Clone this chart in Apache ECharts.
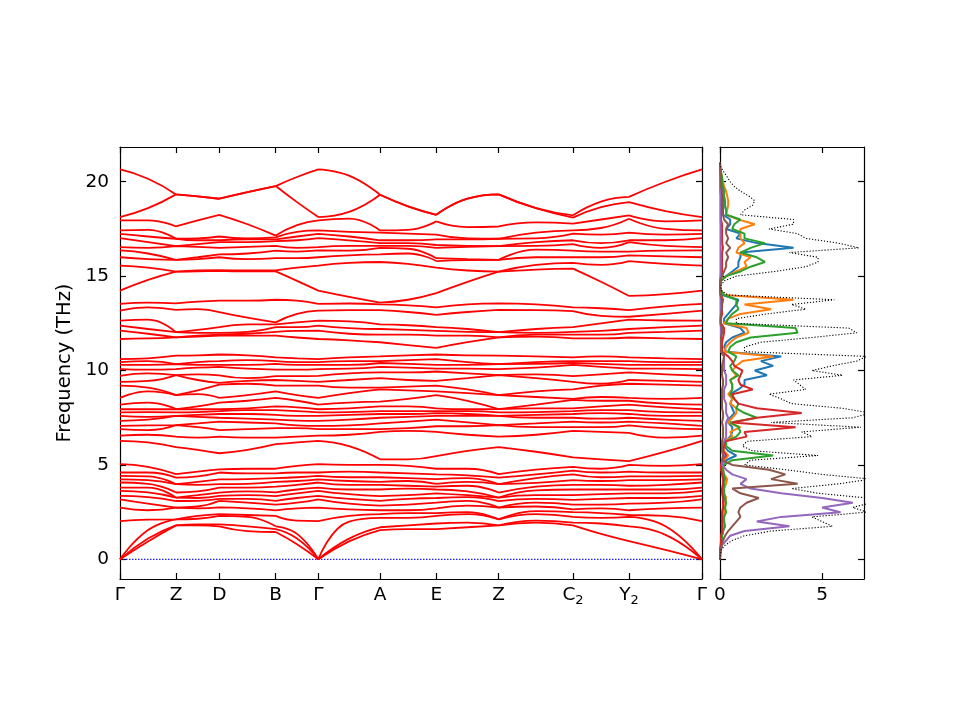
<!DOCTYPE html>
<html><head><meta charset="utf-8">
<script src="https://cdn.jsdelivr.net/npm/echarts@6.0.0/dist/echarts.min.js"></script>
<style>html,body{margin:0;padding:0;background:#fff}#c{width:960px;height:720px}</style>
</head><body><div id="c"></div>
<script>
// ---- band structure: path ticks ----
const kLabels = ['Γ','Z','D','B','Γ','A','E','Z','C_2','Y_2','Γ'];
const kTicks = [0, 56, 99.3, 155.7, 198.3, 260, 316.3, 378.7, 453, 509, 582];
const kSamples = [0, 28, 56, 77.7, 99.3, 127.5, 155.7, 177, 198.3, 229, 260, 288, 316.3, 347.5, 378.7, 416, 453, 481, 509, 545.5, 582];
const freqTicks = [0, 5, 10, 15, 20];
const dosTicks = [0, 5];

// ---- frequencies (THz) at each sample point, sorted ----
const fGamma = [0, 0, 0, 2.03, 2.74, 3.18, 3.36, 3.63, 3.8, 4.07, 4.24, 4.42, 4.6, 5.04,
  6.28, 6.55, 6.9, 7.07, 7.34, 7.6, 7.78, 7.95, 8.2, 8.55, 9.2, 9.4, 9.72, 10.08, 10.3, 10.45, 10.61,
  11.67, 12.11, 12.38, 12.64, 13.17, 13.53, 14.23, 15.56, 16.0, 16.36, 16.54, 17.01, 17.24, 17.42, 17.95, 18.13, 20.65];
const fGZ = [0.95, 1.1, 1.55, 2.1, 2.6, 2.95, 3.3, 3.55, 3.8, 4.0, 4.2, 4.4, 4.6, 4.9,
  6.2, 6.6, 6.85, 7.1, 7.4, 7.55, 7.8, 7.95, 8.3, 8.9, 9.1, 9.45, 9.85, 10.05, 10.3, 10.5, 10.65,
  11.7, 11.95, 12.2, 12.7, 13.35, 13.6, 14.8, 15.45, 15.9, 16.2, 16.5, 16.8, 17.1, 17.45, 17.95, 18.6, 20.16];
const fZ = [1.8, 1.8, 2.12, 2.12, 2.74, 2.74, 3.09, 3.27, 3.27, 3.54, 3.98, 3.98, 4.33, 4.51,
  5.95, 6.5, 7.11, 7.11, 7.6, 7.6, 7.78, 7.96, 7.96, 8.7, 8.7, 9.76, 9.76, 10.08, 10.34, 10.34, 10.79,
  11.76, 11.76, 12.03, 12.03, 13.21, 13.56, 15.24, 15.24, 15.86, 15.86, 16.59, 16.59, 16.98, 16.98, 17.63, 19.33, 19.33];
const fZD = [1.8, 1.85, 2.15, 2.3, 2.7, 2.8, 3.1, 3.25, 3.4, 3.6, 3.95, 4.1, 4.4, 4.65,
  5.8, 6.45, 7.0, 7.2, 7.55, 7.65, 7.8, 7.95, 8.1, 8.75, 8.95, 9.5, 9.8, 10.15, 10.3, 10.45, 10.8,
  11.8, 11.85, 12.0, 12.15, 13.25, 13.65, 15.25, 15.3, 15.9, 16.0, 16.55, 16.7, 16.9, 17.0, 17.95, 19.22, 19.22];
const fD = [1.75, 1.85, 2.3, 2.4, 2.75, 3.1, 3.2, 3.36, 3.54, 3.8, 3.98, 4.24, 4.6, 4.77,
  5.62, 6.5, 6.85, 7.3, 7.5, 7.7, 7.85, 7.95, 8.3, 8.55, 9.25, 9.35, 9.75, 10.2, 10.3, 10.5, 10.85,
  11.85, 11.9, 12.0, 12.3, 13.1, 13.7, 15.28, 15.32, 16.0, 16.15, 16.5, 16.8, 16.9, 17.1, 18.25, 19.1, 19.1];
const fDB = [1.5, 1.75, 2.25, 2.35, 2.7, 3.0, 3.2, 3.4, 3.6, 3.8, 4.0, 4.25, 4.55, 4.8,
  5.8, 6.45, 6.9, 7.25, 7.45, 7.7, 7.9, 8.0, 8.4, 8.7, 9.3, 9.45, 9.6, 10.1, 10.3, 10.55, 10.8,
  11.85, 11.95, 12.05, 12.45, 12.8, 13.7, 15.25, 15.3, 15.9, 16.2, 16.55, 16.8, 16.95, 17.0, 17.75, 19.45, 19.45];
const fB = [1.45, 1.6, 1.75, 2.3, 2.6, 2.9, 3.1, 3.35, 3.55, 3.85, 4.1, 4.3, 4.55, 4.8,
  6.1, 6.45, 6.95, 7.2, 7.4, 7.65, 7.9, 8.1, 8.55, 8.9, 9.2, 9.5, 9.7, 10.05, 10.35, 10.5, 10.7,
  11.85, 12.05, 12.3, 12.45, 12.55, 13.75, 15.25, 15.3, 15.95, 16.35, 16.6, 16.85, 16.95, 17.05, 17.15, 19.77, 19.77];
const fBG = [0.8, 1.1, 1.35, 2.05, 2.7, 3.0, 3.25, 3.5, 3.7, 3.95, 4.15, 4.35, 4.6, 4.95,
  6.2, 6.5, 6.95, 7.1, 7.35, 7.6, 7.85, 8.05, 8.4, 8.7, 9.2, 9.45, 9.7, 10.05, 10.3, 10.45, 10.65,
  11.75, 12.1, 12.3, 12.55, 13.0, 13.7, 14.75, 15.45, 15.95, 16.3, 16.5, 16.9, 17.1, 17.35, 17.7, 18.92, 20.25];
const fGA = [0.95, 1.1, 2.0, 2.3, 2.65, 2.95, 3.2, 3.45, 3.7, 3.95, 4.15, 4.35, 4.65, 5.0,
  6.0, 6.6, 6.9, 7.1, 7.4, 7.65, 7.8, 8.0, 8.3, 8.8, 9.1, 9.5, 9.85, 10.1, 10.3, 10.5, 10.7,
  11.6, 11.95, 12.25, 12.6, 13.2, 13.55, 13.9, 15.7, 16.1, 16.35, 16.6, 16.9, 17.1, 17.35, 18.05, 18.4, 20.32];
const fA = [1.55, 1.7, 2.2, 2.4, 2.6, 2.85, 3.1, 3.35, 3.7, 3.95, 4.1, 4.35, 4.6, 5.0,
  5.3, 6.75, 6.9, 7.2, 7.5, 7.7, 7.85, 8.1, 8.35, 9.0, 9.1, 9.6, 9.9, 10.2, 10.4, 10.5, 10.75,
  11.5, 11.9, 12.2, 12.45, 13.2, 13.5, 13.6, 15.75, 16.15, 16.5, 16.6, 16.75, 16.9, 17.3, 17.42, 19.31, 19.31];
const fAE = [1.6, 1.8, 2.2, 2.45, 2.6, 2.9, 3.2, 3.4, 3.75, 3.9, 4.15, 4.3, 4.55, 4.95,
  5.3, 6.8, 6.95, 7.3, 7.55, 7.7, 7.85, 8.1, 8.5, 8.95, 9.15, 9.5, 9.9, 10.15, 10.35, 10.55, 10.8,
  11.35, 11.9, 12.15, 12.4, 13.1, 13.45, 13.75, 15.65, 16.2, 16.45, 16.6, 16.75, 16.9, 17.25, 17.45, 18.7, 18.7];
const fE = [1.6, 1.9, 2.3, 2.45, 2.7, 3.0, 3.25, 3.5, 3.7, 3.85, 4.0, 4.25, 4.5, 4.8,
  5.47, 6.75, 7.05, 7.4, 7.6, 7.75, 7.85, 8.0, 8.7, 8.9, 9.2, 9.45, 9.95, 10.1, 10.3, 10.6, 10.85,
  11.2, 11.85, 12.1, 12.3, 12.95, 13.35, 14.1, 15.45, 15.8, 15.95, 16.5, 16.65, 16.95, 17.2, 17.9, 18.25, 18.25];
const fEZ = [1.7, 1.95, 2.4, 2.5, 2.85, 3.1, 3.3, 3.4, 3.6, 3.9, 4.1, 4.3, 4.45, 4.8,
  5.75, 6.6, 7.05, 7.25, 7.6, 7.7, 7.85, 7.95, 8.4, 8.8, 9.0, 9.6, 9.85, 10.1, 10.3, 10.45, 10.8,
  11.5, 11.85, 12.05, 12.2, 13.1, 13.5, 14.7, 15.3, 15.85, 15.9, 16.55, 16.6, 16.95, 17.0, 17.6, 19.1, 19.1];
const fZC = [1.95, 2.05, 2.4, 2.55, 2.8, 3.0, 3.2, 3.4, 3.65, 3.85, 4.05, 4.3, 4.5, 4.75,
  5.7, 6.6, 7.0, 7.2, 7.5, 7.65, 7.8, 8.0, 8.2, 8.6, 8.9, 9.6, 9.8, 10.15, 10.35, 10.45, 10.75,
  11.8, 11.9, 12.0, 12.2, 13.2, 13.5, 15.35, 15.6, 16.0, 16.4, 16.6, 16.8, 17.0, 17.3, 17.85, 18.6, 18.6];
const fC2 = [1.8, 1.95, 2.25, 2.5, 2.65, 2.9, 3.15, 3.4, 3.7, 3.95, 4.2, 4.5, 4.7, 4.9,
  5.4, 6.8, 7.0, 7.3, 7.5, 7.7, 7.85, 8.0, 8.45, 8.5, 9.0, 9.4, 9.7, 10.3, 10.4, 10.5, 10.7,
  11.7, 11.9, 12.05, 12.3, 13.15, 13.35, 15.4, 15.7, 16.0, 16.35, 16.7, 16.9, 17.25, 17.42, 17.78, 18.1, 18.22];
const fCY = [1.35, 1.9, 2.2, 2.45, 2.7, 2.9, 3.2, 3.45, 3.7, 3.95, 4.15, 4.35, 4.6, 4.8,
  5.3, 6.75, 7.0, 7.25, 7.45, 7.75, 7.9, 8.1, 8.4, 8.6, 9.2, 9.3, 9.8, 10.2, 10.35, 10.5, 10.75,
  11.7, 11.9, 12.1, 12.5, 12.9, 13.3, 14.7, 15.6, 16.0, 16.3, 16.5, 16.75, 17.2, 17.55, 18.0, 18.65, 18.95];
const fY2 = [0.97, 1.75, 2.25, 2.35, 2.6, 2.95, 3.25, 3.5, 3.7, 3.9, 4.2, 4.4, 4.65, 5.0,
  5.2, 6.7, 7.1, 7.3, 7.5, 7.7, 7.9, 8.2, 8.4, 8.55, 9.3, 9.5, 9.9, 10.1, 10.3, 10.5, 10.7,
  11.75, 12.0, 12.2, 12.7, 12.85, 13.2, 13.95, 15.8, 16.1, 16.3, 16.8, 16.9, 17.3, 18.04, 18.22, 18.92, 19.2];
const fYG = [0.5, 1.3, 1.75, 2.3, 2.7, 3.0, 3.25, 3.5, 3.7, 3.95, 4.2, 4.4, 4.6, 4.95,
  5.7, 6.45, 6.95, 7.2, 7.4, 7.6, 7.8, 8.05, 8.25, 8.5, 9.25, 9.45, 9.8, 10.1, 10.3, 10.45, 10.65,
  11.7, 12.05, 12.3, 12.65, 13.0, 13.4, 14.05, 15.65, 16.05, 16.35, 16.6, 16.9, 17.2, 17.5, 17.9, 18.45, 20.0];

// ---- DOS ----
const dosFreq = [0, 0.25, 0.5, 0.75, 1, 1.25, 1.5, 1.75, 2, 2.25, 2.5, 2.75, 3, 3.25, 3.5, 3.75,
  4, 4.25, 4.5, 4.75, 5, 5.25, 5.5, 5.75, 6, 6.25, 6.5, 6.75, 7, 7.25, 7.5, 7.75,
  8, 8.25, 8.5, 8.75, 9, 9.25, 9.5, 9.75, 10, 10.25, 10.5, 10.75, 11, 11.25, 11.5, 11.75,
  12, 12.25, 12.5, 12.75, 13, 13.25, 13.5, 13.75, 14, 14.25, 14.5, 14.75, 15, 15.25, 15.5, 15.75,
  16, 16.25, 16.5, 16.75, 17, 17.25, 17.5, 17.75, 18, 18.25, 18.5, 18.75, 19, 19.25, 19.5, 19.75,
  20, 20.25, 20.5, 20.75, 21];
const dosTotal = [0, 0.02, 0.05, 0.25, 0.6, 1.2, 2.5, 5.5, 5.0, 4.5, 7.2, 6.5, 7.4, 7.2, 4.8, 3.5,
  5.8, 7.4, 5.0, 3.2, 1.2, 1.5, 4.8, 1.6, 1.1, 1.3, 4.5, 4.0, 6.9, 2.5, 6.5, 7.4,
  6.0, 3.5, 3.0, 2.4, 4.2, 3.9, 3.6, 6.0, 4.5, 5.5, 6.7, 7.2, 1.2, 1.2, 2.0, 4.5,
  6.7, 6.3, 0.8, 0.8, 2.3, 4.2, 3.5, 5.6, 0.4, 0.05, 0.05, 0.2, 0.8, 2.7, 4.2, 4.8,
  4.8, 3.4, 6.8, 5.8, 4.2, 3.8, 2.4, 3.6, 3.6, 1.0, 1.2, 1.6, 1.7, 1.4, 1.0, 0.7,
  0.5, 0.35, 0.2, 0.05, 0];
const dosBlue = [0, 0, 0.02, 0.05, 0.1, 0.1, 0.15, 0.2, 0.2, 0.15, 0.2, 0.2, 0.25, 0.2, 0.2, 0.15,
  0.15, 0.2, 0.15, 0.1, 0.1, 0.3, 0.8, 0.4, 0.2, 0.25, 0.5, 0.6, 0.6, 0.4, 0.5, 0.7,
  0.6, 0.5, 0.6, 0.5, 0.9, 1.2, 1.2, 2.3, 1.7, 2.6, 2.0, 3.0, 0.3, 0.2, 0.3, 0.6,
  1.2, 1.0, 0.2, 0.2, 0.4, 0.6, 0.8, 0.9, 0.1, 0, 0, 0.05, 0.3, 0.6, 0.9, 0.9,
  1.0, 1.0, 3.6, 1.8, 0.8, 1.0, 0.3, 0.5, 0.5, 0.15, 0.15, 0.2, 0.2, 0.15, 0.1, 0.1,
  0.05, 0.05, 0.02, 0, 0];
const dosOrange = [0, 0, 0.02, 0.05, 0.05, 0.1, 0.1, 0.15, 0.2, 0.2, 0.2, 0.25, 0.25, 0.3, 0.2, 0.2,
  0.3, 0.35, 0.2, 0.15, 0.1, 0.2, 0.4, 0.2, 0.15, 0.25, 0.6, 0.5, 1.0, 0.4, 0.6, 0.8,
  0.8, 0.5, 0.6, 0.4, 0.6, 0.6, 0.5, 0.8, 0.6, 0.8, 1.1, 2.6, 0.2, 0.3, 0.5, 0.8,
  1.4, 1.3, 0.2, 0.4, 1.0, 2.5, 1.2, 3.6, 0.2, 0.05, 0, 0.05, 0.3, 0.8, 1.3, 1.2,
  1.5, 0.8, 0.9, 1.2, 1.0, 1.0, 1.0, 1.7, 0.9, 0.3, 0.35, 0.4, 0.4, 0.35, 0.3, 0.2,
  0.15, 0.1, 0.05, 0, 0];
const dosGreen = [0, 0, 0.02, 0.05, 0.1, 0.1, 0.15, 0.25, 0.2, 0.2, 0.3, 0.25, 0.3, 0.25, 0.2, 0.2,
  0.2, 0.25, 0.2, 0.15, 0.2, 0.6, 2.6, 0.6, 0.3, 0.3, 0.8, 1.0, 0.9, 0.5, 1.8, 1.2,
  0.8, 0.9, 0.7, 0.5, 0.6, 0.6, 0.5, 0.9, 0.6, 0.5, 0.7, 0.8, 0.4, 0.5, 0.8, 1.5,
  3.8, 3.7, 0.3, 0.4, 0.6, 0.9, 0.8, 0.8, 0.2, 0.05, 0, 0.05, 0.3, 1.0, 1.5, 2.2,
  1.8, 1.0, 1.5, 2.2, 1.2, 1.2, 0.6, 0.7, 1.0, 0.3, 0.3, 0.25, 0.25, 0.2, 0.2, 0.15,
  0.1, 0.1, 0.05, 0.02, 0];
const dosRed = [0, 0, 0.01, 0.03, 0.05, 0.05, 0.1, 0.1, 0.1, 0.1, 0.1, 0.15, 0.15, 0.15, 0.1, 0.1,
  0.15, 0.15, 0.1, 0.05, 0.05, 0.1, 0.3, 0.15, 0.2, 0.25, 1.3, 1.2, 3.7, 0.6, 1.8, 4.0,
  1.8, 0.9, 0.7, 0.6, 1.6, 1.0, 0.9, 1.0, 1.1, 0.7, 0.6, 0.4, 0.1, 0.1, 0.1, 0.15,
  0.2, 0.2, 0.05, 0.05, 0.1, 0.1, 0.1, 0.15, 0.05, 0, 0, 0.02, 0.05, 0.1, 0.1, 0.1,
  0.1, 0.1, 0.15, 0.1, 0.1, 0.1, 0.1, 0.1, 0.05, 0.05, 0.05, 0.05, 0.05, 0.05, 0.03, 0.02,
  0.02, 0.01, 0, 0, 0];
const dosPurple = [0, 0.02, 0.05, 0.1, 0.3, 0.5, 1.2, 3.4, 1.8, 3.0, 5.9, 5.0, 6.5, 5.0, 3.0, 1.5,
  1.0, 1.3, 0.6, 0.3, 0.1, 0.1, 0.2, 0.1, 0.1, 0.2, 0.3, 0.3, 0.3, 0.3, 0.4, 0.3,
  0.3, 0.3, 0.2, 0.2, 0.2, 0.3, 0.3, 0.3, 0.2, 0.2, 0.2, 0.2, 0.05, 0.05, 0.05, 0.05,
  0.05, 0.05, 0.02, 0.02, 0.03, 0.03, 0.03, 0.03, 0.02, 0, 0, 0, 0.02, 0.03, 0.03, 0.03,
  0.03, 0.03, 0.03, 0.03, 0.03, 0.03, 0.03, 0.03, 0.02, 0.02, 0.02, 0.02, 0.02, 0.02, 0.01, 0.01,
  0.01, 0.01, 0, 0, 0];
const dosBrown = [0, 0.01, 0.03, 0.08, 0.15, 0.25, 0.4, 0.6, 0.8, 1.0, 0.9, 1.0, 1.3, 1.9, 1.0, 0.6,
  3.8, 2.5, 3.2, 2.4, 0.6, 0.1, 0.15, 0.1, 0.1, 0.1, 0.15, 0.15, 0.15, 0.1, 0.15, 0.15,
  0.1, 0.1, 0.1, 0.1, 0.1, 0.15, 0.15, 0.1, 0.1, 0.1, 0.15, 0.2, 0.05, 0.05, 0.05, 0.05,
  0.1, 0.1, 0.03, 0.03, 0.05, 0.1, 0.1, 0.1, 0.02, 0, 0, 0.02, 0.1, 0.2, 0.3, 0.3,
  0.4, 0.3, 0.5, 0.3, 0.4, 0.3, 0.3, 0.4, 0.2, 0.15, 0.1, 0.1, 0.1, 0.1, 0.1, 0.05,
  0.05, 0.05, 0.02, 0, 0];

// ---- build ----
const columns = [fGamma, fGZ, fZ, fZD, fD, fDB, fB, fBG, fGamma, fGA, fA, fAE, fE, fEZ, fZ, fZC, fC2, fCY, fY2, fYG, fGamma];
const nBands = fGamma.length;
const FONT = 'DejaVu Sans';
const series = [];
series.push({
  type: 'line', xAxisIndex: 0, yAxisIndex: 0, data: [[kTicks[0], 0], [kTicks[kTicks.length - 1], 0]],
  showSymbol: false, symbol: 'none', silent: true, z: 1,
  lineStyle: { color: '#2020ff', width: 1.3, type: [1.5, 1.5] }
});
for (let b = 0; b < nBands; b++) {
  const data = [];
  for (let s = 0; s < 10; s++) {
    for (let j = 0; j < 3; j++) {
      const i = 2 * s + j;
      data.push([kSamples[i], columns[i][b]]);
    }
    if (s < 9) data.push([kSamples[2 * s + 2], null]);
  }
  series.push({
    type: 'line', xAxisIndex: 0, yAxisIndex: 0, data, smooth: 0.5,
    showSymbol: false, symbol: 'none', silent: true, connectNulls: false, z: 2,
    lineStyle: { color: '#ff0000', width: 1.8 }
  });
}
const pdos = [
  [dosBlue, '#1f77b4'], [dosOrange, '#ff7f0e'], [dosGreen, '#2ca02c'],
  [dosRed, '#d62728'], [dosPurple, '#9467bd'], [dosBrown, '#8c564b']
];
pdos.forEach(([vals, col]) => {
  series.push({
    type: 'line', xAxisIndex: 2, yAxisIndex: 2,
    data: dosFreq.map((f, i) => [vals[i], f]),
    showSymbol: false, symbol: 'none', silent: true, z: 2,
    lineStyle: { color: col, width: 2 }
  });
});
series.push({
  type: 'line', xAxisIndex: 2, yAxisIndex: 2,
  data: dosFreq.map((f, i) => [dosTotal[i], f]),
  showSymbol: false, symbol: 'none', silent: true, z: 3,
  lineStyle: { color: '#000', width: 1.1, type: [1.2, 1.8] }
});

const axLine = { show: true, onZero: false, lineStyle: { color: '#000', width: 1.2 } };
const tickStyle = { color: '#000', width: 1.2 };
const labelStyle = { color: '#000', fontSize: 18.5, fontFamily: FONT };
const yMin = -1.04, yMax = 21.84;
function yAx(grid, pos, show) {
  return {
    type: 'value', gridIndex: grid, position: pos, min: yMin, max: yMax,
    axisLine: axLine, splitLine: { show: false },
    axisTick: { show: true, inside: true, length: 6, customValues: freqTicks, lineStyle: tickStyle },
    axisLabel: show ? Object.assign({ show: true, customValues: freqTicks, margin: 11 }, labelStyle) : { show: false }
  };
}
const kLabelFmt = v => {
  const i = kTicks.findIndex(t => Math.abs(t - v) < 1e-6);
  if (i < 0) return '';
  const parts = kLabels[i].split('_');
  return parts.length > 1 ? '{b|' + parts[0] + '}{s|' + parts[1] + '}' : '{b|' + parts[0] + '}';
};
const kRich = {
  b: { fontSize: 18.5, fontFamily: FONT, color: '#000', lineHeight: 24 },
  s: { fontSize: 13, fontFamily: FONT, color: '#000', lineHeight: 13, verticalAlign: 'bottom' }
};
const option = {
  animation: false,
  backgroundColor: '#ffffff',
  grid: [
    { left: 120, right: 258, top: 147, bottom: 141 },
    { left: 720, right: 96, top: 147, bottom: 141 }
  ],
  xAxis: [
    { type: 'value', gridIndex: 0, position: 'bottom', min: 0, max: 582, axisLine: axLine, splitLine: { show: false },
      axisTick: { show: true, inside: true, length: 6, customValues: kTicks, lineStyle: tickStyle },
      axisLabel: { show: true, customValues: kTicks, formatter: kLabelFmt, margin: 4, rich: kRich, color: '#000', fontFamily: FONT, fontSize: 18.5 } },
    { type: 'value', gridIndex: 0, position: 'top', min: 0, max: 582, axisLine: axLine, splitLine: { show: false },
      axisTick: { show: true, inside: true, length: 6, customValues: kTicks, lineStyle: tickStyle },
      axisLabel: { show: false } },
    { type: 'value', gridIndex: 1, position: 'bottom', min: 0, max: 7.05, axisLine: axLine, splitLine: { show: false },
      axisTick: { show: true, inside: true, length: 6, customValues: dosTicks, lineStyle: tickStyle },
      axisLabel: Object.assign({ show: true, customValues: dosTicks, margin: 7 }, labelStyle) },
    { type: 'value', gridIndex: 1, position: 'top', min: 0, max: 7.05, axisLine: axLine, splitLine: { show: false },
      axisTick: { show: true, inside: true, length: 6, customValues: dosTicks, lineStyle: tickStyle },
      axisLabel: { show: false } }
  ],
  yAxis: [
    Object.assign(yAx(0, 'left', true), {
      name: 'Frequency (THz)', nameLocation: 'middle', nameGap: 42,
      nameTextStyle: { color: '#000', fontSize: 19.5, fontFamily: FONT }
    }),
    yAx(0, 'right', false),
    yAx(1, 'left', false),
    yAx(1, 'right', false)
  ],
  series
};
const chart = echarts.init(document.getElementById('c'), null, { renderer: 'canvas' });
chart.setOption(option);
</script></body></html>
